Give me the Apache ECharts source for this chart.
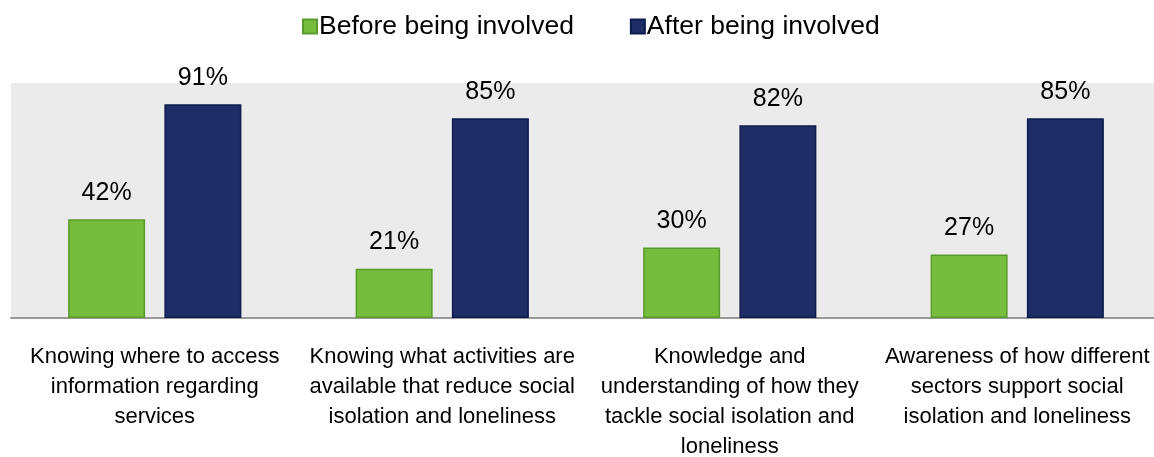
<!DOCTYPE html>
<html>
<head>
<meta charset="utf-8">
<script src="https://cdn.jsdelivr.net/npm/echarts@6/dist/echarts.min.js"></script>
<style>
  html, body { margin: 0; padding: 0; background: #fff; overflow: hidden; }
  #chart { width: 1154px; height: 457px; }
</style>
</head>
<body>
<div id="chart"></div>
<script>
const categories = [
  'Knowing where to access\ninformation regarding\nservices',
  'Knowing what activities are\navailable that reduce social\nisolation and loneliness',
  'Knowledge and\nunderstanding of how they\ntackle social isolation and\nloneliness',
  'Awareness of how different\nsectors support social\nisolation and loneliness'
];
const seriesNames = ['Before being involved', 'After being involved'];
const beforeValues = [42, 21, 30, 27];
const afterValues = [91, 85, 82, 85];

const FONT = '"Liberation Sans", Arial, sans-serif';

const chart = echarts.init(document.getElementById('chart'), null, { renderer: 'canvas' });

const valueLabel = {
  show: true,
  position: 'top',
  distance: 14,
  formatter: p => p.value + '%',
  color: '#000',
  fontFamily: FONT,
  fontSize: 25
};

chart.setOption({
  animation: false,
  backgroundColor: '#fff',
  legend: {
    top: 8,
    left: 297,
    itemWidth: 14,
    itemHeight: 14,
    itemGap: 56,
    icon: 'rect',
    textStyle: { fontFamily: FONT, fontSize: 26.5, color: '#000', padding: [0, 0, 0, -3] },
    data: seriesNames
  },
  grid: {
    left: 11,
    right: -7,
    top: 83,
    bottom: 139,
    outerBoundsMode: 'none',
    containLabel: false,
    show: true,
    backgroundColor: '#ebebeb',
    borderWidth: 0
  },
  xAxis: {
    type: 'category',
    data: categories,
    axisLine: { show: true, lineStyle: { color: '#999', width: 2 } },
    axisTick: { show: false },
    axisLabel: {
      interval: 0,
      margin: 24,
      color: '#000',
      fontFamily: FONT,
      fontSize: 22,
      lineHeight: 30
    }
  },
  yAxis: {
    type: 'value',
    min: 0,
    max: 100,
    interval: 20,
    show: false,
    splitLine: { show: false }
  },
  series: [
    {
      name: seriesNames[0],
      type: 'bar',
      data: beforeValues,
      barWidth: 77,
      barGap: '25%',
      itemStyle: { color: '#76bd3d', borderColor: '#5a9a2c', borderWidth: 1.5 },
      label: valueLabel
    },
    {
      name: seriesNames[1],
      type: 'bar',
      data: afterValues,
      barWidth: 77,
      barGap: '25%',
      itemStyle: { color: '#1f2d66', borderColor: '#0e1c4e', borderWidth: 1.5 },
      label: valueLabel
    }
  ]
});
</script>
</body>
</html>
